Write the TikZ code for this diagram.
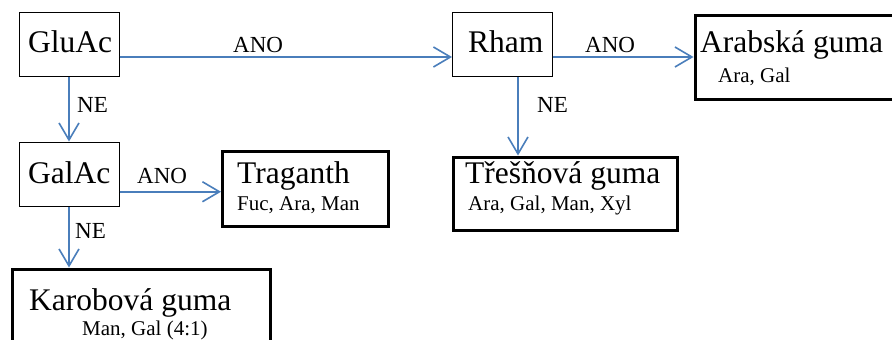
\documentclass[tikz,border=0pt]{standalone}
\usepackage{fontspec}
\setmainfont{Liberation Serif}
\newfontfamily\tnr{Liberation Serif}
\usetikzlibrary{arrows.meta,calc}
\definecolor{arrowblue}{RGB}{74,126,187}
\tikzset{
  thinbox/.style={draw=black,line width=1pt,anchor=north west,inner sep=0pt},
  thickbox/.style={draw=black,line width=3pt,anchor=north west,inner sep=0pt},
  bigtxt/.style={anchor=base west,inner sep=0pt,font=\tnr\fontsize{31.5}{36}\selectfont},
  subtxt/.style={anchor=base west,inner sep=0pt,font=\tnr\fontsize{21}{25}\selectfont},
  lbl/.style={anchor=base west,inner sep=0pt,font=\tnr\fontsize{23}{27}\selectfont},
  conn/.style={draw=arrowblue,line width=1.6pt,-{Straight Barb[length=17pt,width=20pt]}}
}
\begin{document}
\begin{tikzpicture}[x=1pt,y=-1pt]
\useasboundingbox (0,0) rectangle (892,340);
\clip (0,0) rectangle (892,340);
% boxes
\node[thinbox,minimum width=100pt,minimum height=64.5pt] (glu) at (18.5,11.5) {};
\node[thinbox,minimum width=100pt,minimum height=64.5pt] (gal) at (18.5,141.5) {};
\node[thinbox,minimum width=99.5pt,minimum height=64.5pt] (rham) at (452,11.5) {};
\node[thickbox,minimum width=165.5pt,minimum height=74.5pt] (trag) at (221,150) {};
\node[thickbox,minimum width=204pt,minimum height=84pt] (arab) at (693.5,13.5) {};
\node[thickbox,minimum width=224.5pt,minimum height=73pt] (tres) at (451.5,155.5) {};
\node[thickbox,minimum width=258pt,minimum height=90pt] (karo) at (10.5,267.5) {};
% texts
\node[bigtxt] (tglu) at (28,52) {GluAc};
\node[bigtxt] (tgal) at (28,183) {GalAc};
\node[bigtxt] (trham) at (468,52) {Rham};
\node[bigtxt] (tarab) at (700,52) {Arabská guma};
\node[subtxt] (sarab) at (718,82) {Ara, Gal};
\node[bigtxt] (ttres) at (465,183) {Třešňová guma};
\node[subtxt] (stres) at (468,210) {Ara, Gal, Man, Xyl};
\node[bigtxt] (ttrag) at (237,183) {Traganth};
\node[subtxt] (strag) at (237,210) {Fuc, Ara, Man};
\node[bigtxt] (tkaro) at (29,310) {Karobová guma};
\node[subtxt] (skaro) at (82,335) {Man, Gal (4:1)};
% labels
\node[lbl] (l1) at (233,52) {ANO};
\node[lbl] (l2) at (77,112) {NE};
\node[lbl] (l3) at (137,183) {ANO};
\node[lbl] (l4) at (75,238) {NE};
\node[lbl] (l5) at (585,52) {ANO};
\node[lbl] (l6) at (537,112) {NE};
% connectors
\draw[conn] (glu.east |- arab.west) -- (rham.west |- arab.west);
\draw[conn] (rham.east |- arab.west) -- (arab.west);
\draw[conn] (glu.south) -- (gal.north);
\draw[conn] ([yshift=-3pt]gal.east |- trag.west) -- ([yshift=-3pt]trag.west);
\draw[conn] (gal.south) -- (gal.south |- karo.north);
\coordinate (rs) at ([xshift=15.75pt]rham.south);
\draw[conn] (rs) -- (rs |- tres.north);
\end{tikzpicture}
\end{document}
